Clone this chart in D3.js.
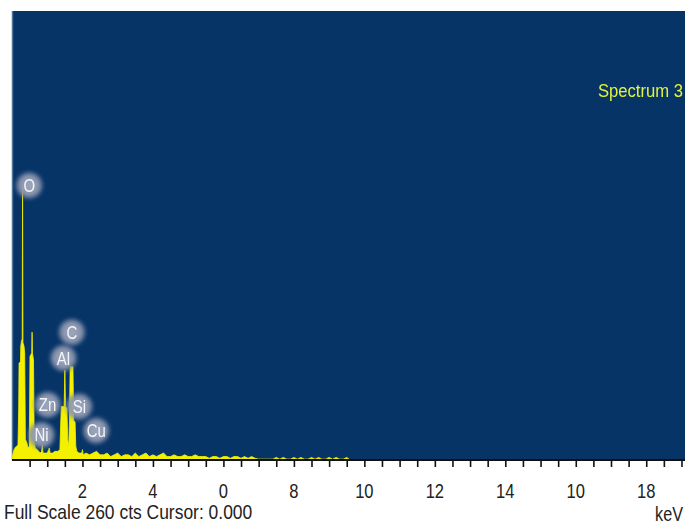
<!DOCTYPE html>
<html>
<head>
<meta charset="utf-8">
<script src="https://cdn.jsdelivr.net/npm/d3@7"></script>
<style>
  html, body { margin: 0; padding: 0; background: #ffffff; }
  svg { display: block; }
  text { font-family: "Liberation Sans", Arial, sans-serif; }
</style>
</head>
<body>
<svg id="chart" width="685" height="524"></svg>
<script>
// EDS spectrum: energy (keV) vs counts
const energy = [
  0.00, 0.02, 0.06, 0.10, 0.14, 0.17, 0.19, 0.20, 0.24, 0.25, 0.27, 0.29, 0.30, 0.31, 0.34, 0.36,
  0.38, 0.42, 0.46, 0.49, 0.50, 0.51, 0.56, 0.57, 0.58, 0.61, 0.63, 0.66, 0.72, 0.80, 0.84, 0.86,
  0.88, 0.95, 1.00, 1.04, 1.06, 1.08, 1.15, 1.22, 1.30, 1.36, 1.38, 1.40, 1.48, 1.50, 1.52, 1.56,
  1.58, 1.61, 1.63, 1.65, 1.73, 1.75, 1.79, 1.81, 1.84, 1.90, 1.98, 2.00, 2.02, 2.10, 2.20, 2.30,
  2.40, 2.50, 2.60, 2.70, 2.80, 2.90, 3.00, 3.10, 3.20, 3.30, 3.40, 3.50, 3.60, 3.70, 3.80, 3.90,
  4.00, 4.10, 4.20, 4.30, 4.40, 4.50, 4.60, 4.70, 4.80, 4.90, 5.00, 5.10, 5.20, 5.30, 5.40, 5.50,
  5.60, 5.70, 5.80, 5.90, 6.00, 6.10, 6.20, 6.30, 6.40, 6.50, 6.60, 6.70, 6.80, 6.90, 7.00, 7.40,
  7.50, 7.60, 7.70, 7.80, 7.90, 8.00, 8.10, 8.20, 8.30, 8.40, 8.50, 8.60, 8.70, 8.80, 8.90, 9.00,
  9.10, 9.20, 9.30, 9.40, 9.50, 9.60, 19.50
];
const counts = [
  0, 3, 6, 7.5, 8, 9, 30, 56, 57, 66, 69, 70, 158, 68, 66, 62,
  12, 10, 7, 8, 30, 60, 62, 74, 62, 58, 12, 7, 6, 4, 5, 9,
  4, 4, 4, 6, 7, 4, 4, 5, 5, 6, 20, 31, 31, 52, 31, 30,
  12, 8, 23, 54, 54, 23, 22, 8, 5, 4, 4, 6, 3, 4, 3, 4,
  5, 3, 3, 4, 2, 3, 4, 2, 3, 3, 2, 4, 2, 3, 4, 2,
  3, 2, 3, 4, 2, 2, 3, 2, 2, 3, 2, 2, 3, 2, 2, 2,
  1, 2, 2, 1, 2, 2, 1, 2, 2, 1, 2, 1, 2, 1, 0.5, 0.5,
  1.5, 0.5, 1.5, 0.5, 0.5, 1.5, 0.5, 1.5, 0.5, 0.5, 1.5, 0.5, 1.5, 0.5, 0.5, 1.5,
  0.5, 1.5, 0.5, 0.5, 1.5, 0, 0
];

// Element markers: label, energy (keV) and count level of the badge centre
const elements = ["O", "C", "Al", "Zn", "Si", "Ni", "Cu"];
const elementKeV = [0.49, 1.70, 1.46, 1.01, 1.91, 0.84, 2.39];
const elementCts = [159, 74, 59, 32, 31, 14.5, 17];

// Axis tick labels as printed under every 2 keV
const tickValues = [2, 4, 6, 8, 10, 12, 14, 16, 18];
const tickLabels = ["2", "4", "0", "8", "10", "12", "14", "10", "18"];

const fullScale = 260;
const spectrumName = "Spectrum 3";
const footerText = "Full Scale 260 cts Cursor: 0.000";
const unitText = "keV";

const svg = d3.select("#chart");
const W = 685, H = 524;
const plot = { left: 12, top: 11, right: 685, bottom: 460 };

const x = d3.scaleLinear().domain([0, 19.1]).range([plot.left, plot.right]);
const y = d3.scaleLinear().domain([0, fullScale]).range([plot.bottom, plot.top]);

const defs = svg.append("defs");
defs.append("clipPath").attr("id", "plotClip")
  .append("rect").attr("x", plot.left).attr("y", plot.top)
  .attr("width", plot.right - plot.left).attr("height", plot.bottom - plot.top);
const soft = defs.append("filter").attr("id", "soft")
  .attr("x", "-50%").attr("y", "-50%").attr("width", "200%").attr("height", "200%");
soft.append("feGaussianBlur").attr("stdDeviation", 2);
const softText = defs.append("filter").attr("id", "softText")
  .attr("x", "-20%").attr("y", "-20%").attr("width", "140%").attr("height", "140%");
softText.append("feGaussianBlur").attr("stdDeviation", 0.4);
const grad = defs.append("radialGradient").attr("id", "badge");
grad.append("stop").attr("offset", "0%").attr("stop-color", "#a9b0c3");
grad.append("stop").attr("offset", "65%").attr("stop-color", "#949db4");
grad.append("stop").attr("offset", "100%").attr("stop-color", "#72809f");

// Condensed, slightly tall text from a regular face
function narrowText(parent, tx, ty, str, size, sx, sy, anchor, fill) {
  return parent.append("text")
    .attr("transform", `translate(${tx},${ty}) scale(${sx},${sy})`)
    .attr("text-anchor", anchor)
    .attr("font-size", size)
    .attr("fill", fill)
    .text(str);
}

// Plot background
svg.append("rect")
  .attr("x", plot.left).attr("y", plot.top)
  .attr("width", plot.right - plot.left).attr("height", plot.bottom - plot.top)
  .attr("fill", "#063467");
svg.append("line")
  .attr("x1", plot.left + 0.5).attr("x2", plot.left + 0.5)
  .attr("y1", plot.top).attr("y2", plot.bottom)
  .attr("stroke", "#4f7597").attr("stroke-width", 1.5);

// Spectrum fill
const pts = energy.map((e, i) => [e, counts[i]]);
const area = d3.area()
  .x(d => x(d[0]))
  .y0(plot.bottom)
  .y1(d => y(d[1]))
  .curve(d3.curveLinear);
svg.append("g").attr("clip-path", "url(#plotClip)")
  .append("path")
  .datum(pts)
  .attr("d", area)
  .attr("fill", "#f4f000")
  .attr("stroke", "#f4f000")
  .attr("stroke-width", 0.8);

// Element badges
const badges = svg.append("g");
elements.forEach((el, i) => {
  const cx = x(elementKeV[i]), cy = y(elementCts[i]);
  badges.append("circle")
    .attr("cx", cx).attr("cy", cy).attr("r", 13)
    .attr("fill", "url(#badge)").attr("opacity", 0.95)
    .attr("filter", "url(#soft)");
  narrowText(badges, cx, cy + 6.5, el, 17, 0.88, 1.1, "middle", "#f4f6fb")
    .attr("filter", "url(#softText)");
});

// Spectrum name
narrowText(svg, 683, 97, spectrumName, 17, 0.98, 1.08, "end", "#e3f23a")
  .attr("filter", "url(#softText)");

// Energy axis: minor ticks every 0.5 keV, labels every 2 keV
const minorTicks = d3.range(1, 39).map(k => k * 0.5);
const axis = d3.axisBottom(x)
  .tickValues(minorTicks)
  .tickSize(7)
  .tickFormat("");
const axisG = svg.append("g")
  .attr("transform", `translate(0,${plot.bottom})`)
  .call(axis);
axisG.select(".domain")
  .attr("d", `M${plot.left},0H${W}`)
  .attr("stroke", "#111").attr("stroke-width", 2.2);
axisG.selectAll(".tick line").attr("stroke", "#111").attr("stroke-width", 1.6);

const tickG = svg.append("g");
tickValues.forEach((v, i) => {
  narrowText(tickG, x(v), 498, tickLabels[i], 18, 0.92, 1.12, "middle", "#222");
});

narrowText(svg, 4, 519, footerText, 18, 0.97, 1.12, "start", "#222");
narrowText(svg, 683, 521, unitText, 18, 0.9, 1.12, "end", "#222");
</script>
</body>
</html>
